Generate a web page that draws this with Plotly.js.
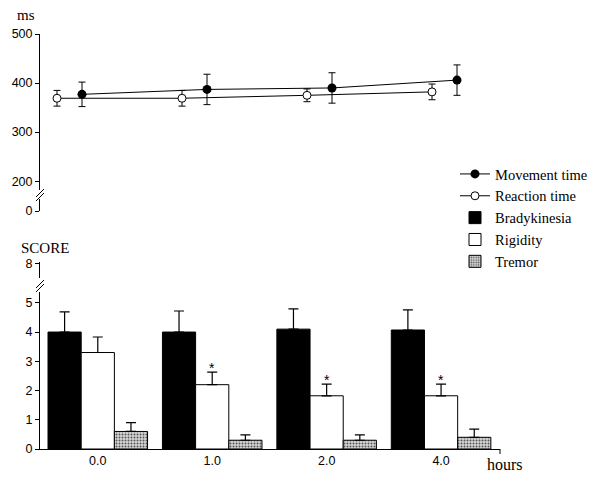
<!DOCTYPE html>
<html>
<head>
<meta charset="utf-8">
<script src="https://cdn.plot.ly/plotly-3.0.1.min.js"></script>
<style>html,body{margin:0;padding:0;background:#fff}#chart{width:605px;height:477px}</style>
</head>
<body>
<div id="chart"></div>
<script>
// ---- data ----
const timeLabels = ['0.0', '1.0', '2.0', '4.0'];
const timeIndex = [0, 1, 2, 3];
const movementTime = [377, 387, 390, 406];
const movementErr = [25, 31, 31, 31];
const reactionTime = [369, 369, 375, 382];
const reactionErr = [16, 16, 13, 16];
const bradykinesia = [4.0, 4.0, 4.1, 4.07];
const bradykinesiaErr = [0.69, 0.72, 0.69, 0.69];
const rigidity = [3.3, 2.2, 1.82, 1.82];
const rigidityErr = [0.53, 0.43, 0.4, 0.4];
const tremor = [0.6, 0.3, 0.3, 0.4];
const tremorErr = [0.3, 0.18, 0.18, 0.28];
const significance = ['', '*', '*', '*'];

// ---- helpers ----
const H = 477, W = 605, ML = 40, MR = 105;
const py = v => (H - v) / H;                 // pixel row -> paper y
const pxp = v => (v - ML) / (W - ML - MR);   // pixel col -> paper x
const movementShift = 0.2;
const serif = 'Liberation Serif';
const sans = 'Liberation Sans, Arial, sans-serif';

const traces = [
  {
    name: 'Movement time', type: 'scatter', mode: 'lines+markers',
    x: timeIndex.map(i => i + movementShift), y: movementTime,
    xaxis: 'x2', yaxis: 'y2',
    line: {color: '#000', width: 1},
    marker: {symbol: 'circle', size: 9, color: '#000'},
    error_y: {type: 'data', array: movementErr, color: '#000', thickness: 1, width: 3.5}
  },
  {
    name: 'Reaction time', type: 'scatter', mode: 'lines+markers',
    x: timeIndex, y: reactionTime,
    xaxis: 'x2', yaxis: 'y2',
    line: {color: '#000', width: 1},
    marker: {symbol: 'circle', size: 8, color: '#fff', line: {color: '#000', width: 1}},
    error_y: {type: 'data', array: reactionErr, color: '#000', thickness: 1, width: 3.5}
  },
  {
    name: 'Bradykinesia', type: 'bar', x: timeIndex, y: bradykinesia,
    marker: {color: '#000', line: {color: '#000', width: 1}},
    error_y: {type: 'data', symmetric: false, array: bradykinesiaErr, arrayminus: [0,0,0,0], color: '#000', thickness: 1.2, width: 5}
  },
  {
    name: 'Rigidity', type: 'bar', x: timeIndex, y: rigidity,
    marker: {color: '#fff', line: {color: '#000', width: 1}},
    error_y: {type: 'data', symmetric: false, array: rigidityErr, arrayminus: [0,0,0,0], color: '#000', thickness: 1.2, width: 5}
  },
  {
    name: 'Tremor', type: 'bar', x: timeIndex, y: tremor,
    marker: {color: '#d0d0d0', line: {color: '#000', width: 1},
             pattern: {shape: '.', fgcolor: '#555', bgcolor: '#d8d8d8', size: 3, solidity: 0.35}},
    error_y: {type: 'data', symmetric: false, array: tremorErr, arrayminus: [0,0,0,0], color: '#000', thickness: 1.2, width: 5}
  },
  // empty carriers so the axis-break stubs are drawn
  {type: 'scatter', x: [], y: [], xaxis: 'x', yaxis: 'y3', showlegend: false, hoverinfo: 'skip'},
  {type: 'scatter', x: [], y: [], xaxis: 'x2', yaxis: 'y4', showlegend: false, hoverinfo: 'skip'}
];

const stars = timeIndex.filter(i => significance[i]).map(i => ({
  x: i, y: rigidity[i] + rigidityErr[i], xref: 'x', yref: 'y',
  text: significance[i], showarrow: false, yanchor: 'bottom', yshift: -6,
  font: {family: sans, size: 14, color: '#000'}
}));

const tickFont = {family: sans, size: 12.5, color: '#000'};
const baseY = {showgrid: false, zeroline: false, showline: true, linecolor: '#000', linewidth: 1,
               ticks: 'outside', ticklen: 4, tickcolor: '#000', tickfont: tickFont, fixedrange: true};

const slash = (x0, y0, x1, y1) => ({type: 'line', xref: 'paper', yref: 'paper',
  x0: pxp(x0), y0: py(y0), x1: pxp(x1), y1: py(y1), line: {color: '#000', width: 1}});

const layout = {
  width: W, height: H,
  margin: {l: ML, r: MR, t: 0, b: 0},
  paper_bgcolor: '#fff', plot_bgcolor: 'rgba(0,0,0,0)',
  barmode: 'group', bargap: 0.13, bargroupgap: 0,
  showlegend: true,
  legend: {x: pxp(455), y: py(158), xanchor: 'left', yanchor: 'top', bgcolor: 'rgba(0,0,0,0)',
           font: {family: serif, size: 14.5, color: '#000'}, itemwidth: 30, traceorder: 'normal', tracegroupgap: 0},
  xaxis: {domain: [0, 1], anchor: 'y', range: [-0.505, 3.515], tickvals: timeIndex, ticktext: timeLabels,
          showgrid: false, zeroline: false, showline: true, linecolor: '#000', ticks: '',
          tickfont: tickFont, fixedrange: true},
  yaxis: Object.assign({}, baseY, {domain: [py(449), py(292)], range: [0, 5.37], tickvals: [0,1,2,3,4,5], anchor: 'x'}),
  yaxis3: Object.assign({}, baseY, {domain: [py(278), py(262)], range: [7.45, 8.07], tickvals: [8], anchor: 'x'}),
  xaxis2: {domain: [0, 1], anchor: 'y2', range: [-0.136, 3.544], visible: false, fixedrange: true},
  yaxis2: Object.assign({}, baseY, {domain: [py(190), py(34)], range: [182, 500], tickvals: [200,300,400,500], anchor: 'x2'}),
  yaxis4: Object.assign({}, baseY, {domain: [py(211), py(199)], range: [0, 25], tickvals: [0], anchor: 'x2'}),
  annotations: stars.concat([
    {text: 'ms', xref: 'paper', yref: 'paper', x: pxp(15), y: py(15), xanchor: 'left', yanchor: 'middle',
     showarrow: false, font: {family: serif, size: 15, color: '#000'}},
    {text: 'SCORE', xref: 'paper', yref: 'paper', x: pxp(19), y: py(248), xanchor: 'left', yanchor: 'middle',
     showarrow: false, font: {family: serif, size: 15, color: '#000'}},
    {text: 'hours', xref: 'paper', yref: 'paper', x: pxp(485), y: py(464), xanchor: 'left', yanchor: 'middle',
     showarrow: false, font: {family: serif, size: 16, color: '#000'}}
  ]),
  shapes: [
    slash(36, 197, 44, 189),
    slash(36, 201, 44, 193),
    slash(36, 288, 44, 280),
    slash(36, 292, 44, 284),
    {type: 'line', xref: 'paper', yref: 'paper', x0: 1, x1: 1, y0: py(449), y1: py(454), line: {color: '#000', width: 1}}
  ]
};

Plotly.newPlot('chart', traces, layout, {displayModeBar: false, staticPlot: true});
</script>
</body>
</html>
